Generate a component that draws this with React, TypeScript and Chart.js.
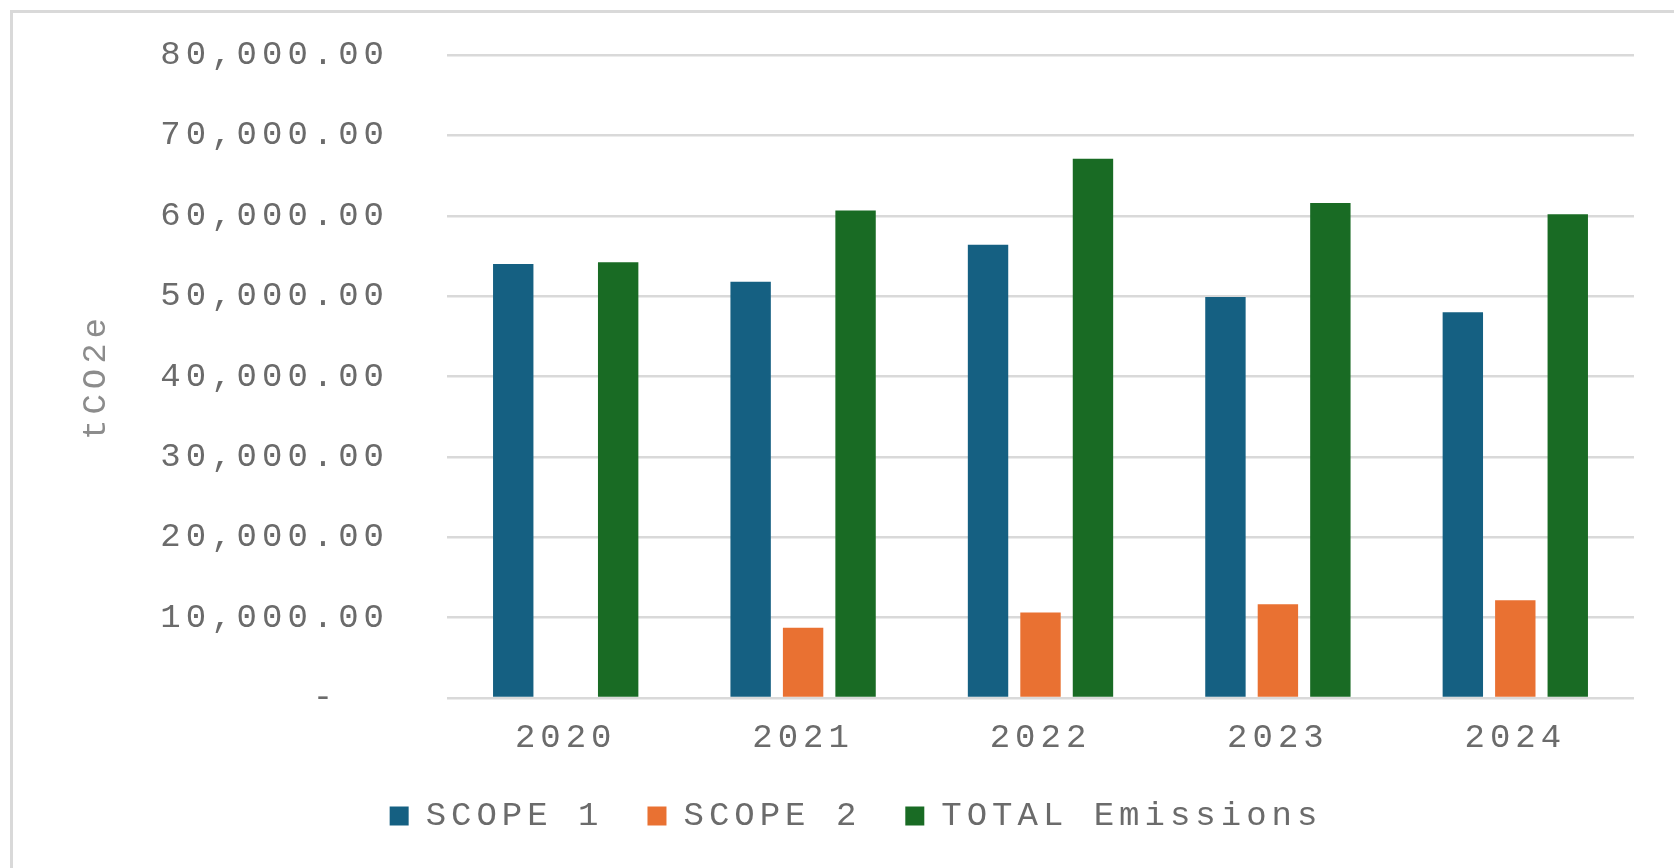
import React, { useEffect, useRef } from 'react';
import { Chart, registerables } from 'chart.js';

Chart.register(...registerables);

// ---- data ----
const years = ['2020', '2021', '2022', '2023', '2024'];
const scope1 = [54000, 51800, 56400, 49900, 48000];
const scope2 = [0, 8750, 10650, 11650, 12150];
const totalEmissions = [54200, 60650, 67100, 61600, 60200];
const seriesNames = ['SCOPE 1', 'SCOPE 2', 'TOTAL Emissions'];
const seriesColors = ['#156082', '#E97132', '#196B24'];
const yTitle = 'tCO2e';
const yMin = 0;
const yMax = 80000;
const yStep = 10000;

const FONT = "'Liberation Mono', 'DejaVu Sans Mono', monospace";
const FONT_SIZE = 34;
const SPACING = '5px';
const TEXT_COLOR = '#6b6b6b';

const spacingPlugin = {
  id: 'letterSpacingPlugin',
  beforeUpdate(chart: any) {
    chart.ctx.letterSpacing = SPACING;
  },
  beforeLayout(chart: any) {
    chart.ctx.letterSpacing = SPACING;
  },
  beforeDraw(chart: any) {
    chart.ctx.letterSpacing = SPACING;
  },
};

function formatTick(v: number): string {
  if (v === 0) return '-  ';
  return v.toLocaleString('en-US', { minimumFractionDigits: 2, maximumFractionDigits: 2 });
}

export default function App() {
  const ref = useRef<HTMLCanvasElement>(null);

  useEffect(() => {
    const canvas = ref.current;
    if (!canvas) return;
    const font = { family: FONT, size: FONT_SIZE };
    const chart = new Chart(canvas, {
      type: 'bar',
      data: {
        labels: years,
        datasets: [
          { label: seriesNames[0], data: scope1, backgroundColor: seriesColors[0] },
          { label: seriesNames[1], data: scope2, backgroundColor: seriesColors[1] },
          { label: seriesNames[2], data: totalEmissions, backgroundColor: seriesColors[2] },
        ],
      },
      options: {
        animation: false,
        responsive: false,
        maintainAspectRatio: false,
        layout: { padding: { left: 78, top: 55, right: 40, bottom: 25 } },
        datasets: { bar: { categoryPercentage: 0.663, barPercentage: 0.77 } },
        scales: {
          x: {
            grid: { display: false, drawTicks: false },
            border: { display: false },
            ticks: { font, color: TEXT_COLOR, padding: 20 },
            afterFit: (s: any) => {
              s.height = 57;
            },
          },
          y: {
            min: yMin,
            max: yMax,
            ticks: {
              stepSize: yStep,
              padding: 58,
              font,
              color: TEXT_COLOR,
              callback: (v: any) => formatTick(Number(v)),
            },
            grid: { color: '#d9d9d9', lineWidth: 2.5, drawTicks: false },
            border: { display: false },
            title: {
              display: true,
              text: yTitle,
              font: { family: FONT, size: FONT_SIZE, lineHeight: 36 / FONT_SIZE },
              color: '#8c8c8c',
              padding: { top: 0, bottom: 0 },
            },
            afterFit: (s: any) => {
              s.width = 369;
              s.paddingTop = 0;
              s.paddingBottom = 0;
            },
          },
        },
        plugins: {
          legend: {
            position: 'bottom',
            labels: { boxWidth: 19, boxHeight: 19, padding: 44, font, color: TEXT_COLOR },
          },
          tooltip: { enabled: false },
        },
      },
      plugins: [spacingPlugin],
    } as any);
    return () => chart.destroy();
  }, []);

  return (
    <div style={{ position: 'fixed', inset: 0, overflow: 'hidden', background: '#ffffff' }}>
      <div
        style={{
          position: 'absolute',
          left: 10,
          top: 10,
          width: 1700,
          height: 900,
          border: '3px solid #d9d9d9',
        }}
      />
      <canvas
        ref={ref}
        width={1674}
        height={868}
        style={{ position: 'absolute', left: 0, top: 0, width: 1674, height: 868 }}
      />
    </div>
  );
}
